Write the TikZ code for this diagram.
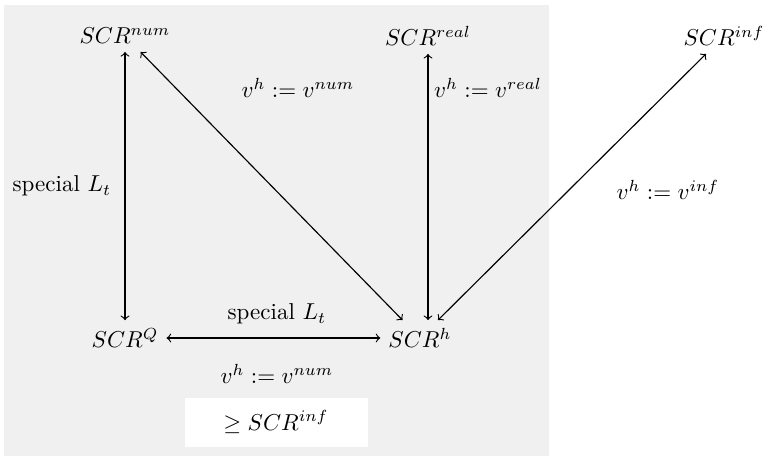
\documentclass[tikz,border=0pt]{standalone}
\usetikzlibrary{positioning}
\begin{document}
\begin{tikzpicture}[x=0.01528cm, y=-0.01528cm]
        % page and shaded region
        \useasboundingbox (0,0) rectangle (771,459);
        \fill[gray!12] (4,5) rectangle (549,456);
        \fill[white] (185,398) rectangle (368,447);

        % the five notions
        \node (num)  at (125,36)  {$SCR^{num}$};
        \node (real) at (428,36)  {$SCR^{real}$};
        \node (inf)  at (724,36)  {$SCR^{inf}$};
        \node (q)    at (125,338) {$SCR^{Q}$};
        \node (h)    at (420,338) {$SCR^{h}$};
        \node (bound) at (276,422) {$\geq SCR^{inf}$};

        % relations
        \draw[<->, line width=0.5pt] (num) -- (q);
        \draw[<->, line width=0.5pt] (num) -- (h);
        \draw[<->, line width=0.5pt] (real.south) -- (real.south |- h.north);
        \draw[<->, line width=0.5pt] (inf) -- (h);
        \draw[<->, line width=0.5pt] (q) -- (h);

        % labels
        \node (lnumq)  at (62,186)  {special $L_t$};
        \node (lnumh)  at (298,88)  {$v^h := v^{num}$};
        \node (lrealh) at (488,88)  {$v^h := v^{real}$};
        \node (linfh)  at (668,190) {$v^h := v^{inf}$};
        \node (lqh)    at (277,314) {special $L_t$};
        \node (lqhb)   at (277,374) {$v^h := v^{num}$};
\end{tikzpicture}
\end{document}
